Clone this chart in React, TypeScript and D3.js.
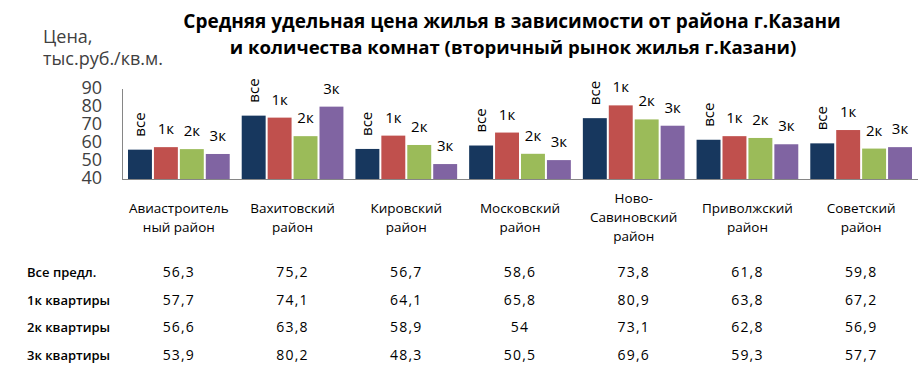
import React from "react";
import * as d3 from "d3";

// районы Казани
const districts = [
  ["Авиастроитель", "ный район"],
  ["Вахитовский", "район"],
  ["Кировский", "район"],
  ["Московский", "район"],
  ["Ново-", "Савиновский", "район"],
  ["Приволжский", "район"],
  ["Советский", "район"],
];

const seriesKeys = ["все", "1к", "2к", "3к"];
const rowNames = ["Все предл.", "1к квартиры", "2к квартиры", "3к квартиры"];

const allOffers = [56.3, 75.2, 56.7, 58.6, 73.8, 61.8, 59.8];
const oneRoom = [57.7, 74.1, 64.1, 65.8, 80.9, 63.8, 67.2];
const twoRoom = [56.6, 63.8, 58.9, 54, 73.1, 62.8, 56.9];
const threeRoom = [53.9, 80.2, 48.3, 50.5, 69.6, 59.3, 57.7];

const yTicks = [40, 50, 60, 70, 80, 90];
const colors = ["#17375E", "#C0504D", "#9BBB59", "#8064A2"];

const FONT = "'Open Sans', 'Noto Sans', sans-serif";

const App = () => {
  const width = 920, height = 373;
  const left = 122, right = 918, top = 89, bottom = 179;

  const series = [allOffers, oneRoom, twoRoom, threeRoom];
  const fmt = (v: number) => String(v).replace(".", ",");

  const y = d3.scaleLinear().domain([40, 90]).range([bottom, top]);
  const x0 = d3.scaleBand<number>()
    .domain(d3.range(districts.length))
    .range([left, right]);
  const groupPad = 6;
  const x1 = d3.scaleBand<number>()
    .domain(d3.range(seriesKeys.length))
    .range([groupPad, x0.bandwidth() - groupPad])
    .paddingInner(0.077);

  const rowY = d3.scalePoint<number>().domain(d3.range(rowNames.length)).range([272, 355]);

  return (
    <svg width={width} height={height} style={{ position: "absolute", left: 0, top: 0, background: "#fff" }}
      fontFamily={FONT}>
      {/* заголовок */}
      <text x={512} y={28} textAnchor="middle" fontSize="19" fontWeight="bold" fill="#000">
        Средняя удельная цена жилья в зависимости от района г.Казани
      </text>
      <text x={513} y={54} textAnchor="middle" fontSize="18.6" fontWeight="bold" fill="#000">
        и количества комнат (вторичный рынок жилья г.Казани)
      </text>

      {/* подпись оси */}
      <text x={43} y={43} fontSize="18" fill="#404040">Цена,</text>
      <text x={43} y={65} fontSize="18" fill="#404040">тыс.руб./кв.м.</text>

      {yTicks.map(t => (
        <text key={t} x={102} y={y(t) + 5} textAnchor="end" fontSize="18" fill="#404040">{t}</text>
      ))}

      <line x1={left + 0.5} x2={left + 0.5} y1={top} y2={bottom} stroke="#868686" />
      <line x1={left} x2={right} y1={bottom + 0.5} y2={bottom + 0.5} stroke="#868686" />

      {districts.map((d, i) => (
        <g key={i} transform={`translate(${x0(i)},0)`}>
          {series.map((s, k) => {
            const bx = x1(k)!;
            const cx = bx + x1.bandwidth() / 2;
            const yt = y(s[i]);
            return (
              <g key={k}>
                <rect x={bx} y={yt} width={x1.bandwidth()} height={bottom - yt} fill={colors[k]} />
                {k === 0 ? (
                  <text transform={`translate(${cx + 5},${yt - 13}) rotate(-90)`} fontSize="15" fill="#000">
                    {seriesKeys[k]}
                  </text>
                ) : (
                  <text x={cx} y={yt - 13} textAnchor="middle" fontSize="15" fill="#000">{seriesKeys[k]}</text>
                )}
              </g>
            );
          })}
          {d.map((line, j) => (
            <text key={j} x={x0.bandwidth() / 2} y={222 - (d.length - 1) * 9.5 + j * 19}
              textAnchor="middle" fontSize="13.5" fill="#000">{line}</text>
          ))}
        </g>
      ))}

      {/* таблица */}
      {rowNames.map((r, k) => (
        <g key={r}>
          <text x={27} y={rowY(k)! + 5} fontSize="13" fontWeight="600" fill="#000">{r}</text>
          {series[k].map((v, i) => (
            <text key={i} x={x0(i)! + x0.bandwidth() / 2} y={rowY(k)! + 5} textAnchor="middle"
              fontSize="14" letterSpacing="1.2" fill="#000">{fmt(v)}</text>
          ))}
        </g>
      ))}
    </svg>
  );
};

export default App;
